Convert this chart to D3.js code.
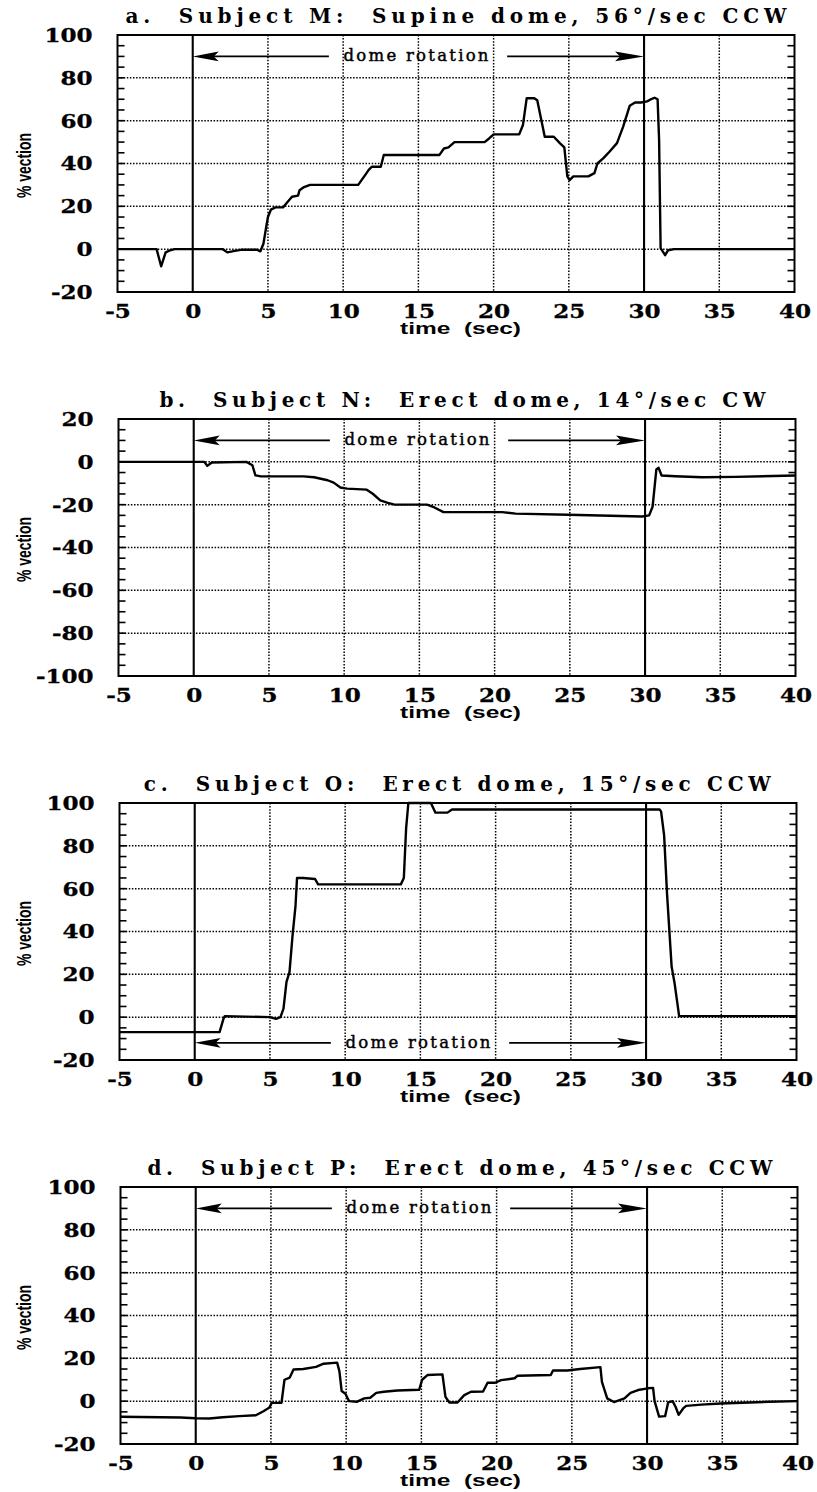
<!DOCTYPE html>
<html>
<head>
<meta charset="utf-8">
<script src="https://cdn.jsdelivr.net/npm/d3@7"></script>
<style>
  html, body { margin: 0; padding: 0; background: #fff; }
  svg { display: block; }
</style>
</head>
<body>
<svg id="fig" width="817" height="1492"></svg>
<script>
// ---- data: [time (sec), % vection] ----
const traceM = [
  [-5, 0], [-2.4, 0], [-2.1, -8], [-1.8, -1.5], [-1.5, -0.5], [-1.2, 0], [2.0, 0], [2.3, -1.5],
  [2.8, -0.8], [3.2, -0.3], [4.3, -0.3], [4.5, -1], [4.7, 2.5], [4.9, 11], [5.0, 15], [5.2, 18.5],
  [5.5, 19.5], [6.0, 19.5], [6.3, 22], [6.6, 24.5], [7.0, 25], [7.1, 27.5], [7.4, 29], [7.8, 30],
  [11.0, 30], [11.4, 34], [11.7, 37], [11.9, 38.5], [12.5, 38.5], [12.7, 44], [16.4, 44], [16.7, 47],
  [17.0, 47.5], [17.4, 50], [19.4, 50], [19.7, 51.7], [20.0, 53.6], [21.7, 53.6], [21.95, 58],
  [22.2, 70.5], [22.7, 70.5], [22.9, 69.5], [23.4, 52.5], [24.0, 52.5], [24.4, 49.5], [24.7, 47.5],
  [24.9, 34], [25.05, 32.2], [25.3, 34], [26.3, 34], [26.7, 35.5], [26.9, 40], [27.3, 42.5],
  [27.7, 45.5], [28.2, 49.5], [28.6, 57], [29.05, 67], [29.4, 68.5], [29.8, 68.5], [30.2, 69],
  [30.4, 69.8], [30.7, 70.7], [30.9, 70], [31.0, 51], [31.1, 0.5], [31.4, -2.8], [31.6, -0.5],
  [32.0, 0], [40, 0]
];
const traceN = [
  [-5, 0], [0.7, 0], [0.9, -1.9], [1.2, -0.3], [3.5, 0], [3.9, -1.6], [4.1, -6.3], [4.4, -6.7],
  [7.3, -6.8], [8.0, -7.2], [8.9, -8.6], [9.3, -9.7], [9.75, -12], [10.2, -12.5], [11.5, -13],
  [11.9, -14.9], [12.4, -18], [12.9, -19.2], [13.3, -19.9], [15.5, -20], [16.0, -21.3], [16.6, -23.5],
  [20.5, -23.5], [21.4, -24.2], [24.9, -24.7], [29.8, -25.5], [30.27, -25], [30.5, -21], [30.75, -3.6],
  [30.9, -2.8], [31.1, -6.4], [32.0, -6.7], [33.8, -7.2], [36.0, -7], [40, -6.4]
];
const traceO = [
  [-5, -7], [1.65, -7], [1.9, -1], [2.0, 0.5], [5.0, 0], [5.4, -0.8], [5.7, 0], [5.9, 4], [6.1, 16.5],
  [6.3, 21], [6.5, 38], [6.7, 52], [6.8, 65], [7.2, 65], [8.0, 64.5], [8.2, 62], [8.55, 62], [13.7, 62],
  [13.9, 65], [14.05, 88], [14.2, 100], [15.7, 100], [16.0, 95.5], [16.8, 95.5], [17.1, 97], [30.9, 97],
  [31.0, 96], [31.2, 85], [31.4, 57], [31.7, 23.6], [31.9, 15.7], [32.2, 0.5], [40, 0.5]
];
const traceP = [
  [-5, -7.3], [-1, -7.6], [0, -8], [0.9, -8.1], [1.8, -7.5], [2.9, -7], [4.0, -6.6], [4.5, -4.7],
  [4.9, -3], [5.05, -0.8], [5.7, -0.8], [5.9, 10], [6.25, 11], [6.5, 14.8], [7.15, 15], [8.0, 16],
  [8.5, 17.5], [9.4, 18], [9.55, 14], [9.7, 4.7], [9.95, 3.5], [10.2, 0], [10.7, -0.3], [11.2, 1.3],
  [11.6, 1.6], [12.0, 3.9], [12.5, 4.4], [13.4, 5], [14.85, 5.3], [15.05, 10], [15.4, 12.2], [16.4, 12.5],
  [16.6, 2], [16.85, -0.6], [17.4, -0.6], [17.85, 2.8], [18.3, 4.4], [19.1, 4.5], [19.4, 8.6],
  [19.9, 8.6], [20.3, 9.8], [21.2, 10.7], [21.4, 11.9], [23.6, 12.2], [23.75, 14.3], [24.7, 14.3],
  [25.55, 15], [26.9, 15.9], [27.0, 9], [27.35, 1.3], [27.8, -0.4], [28.5, 1.3], [28.9, 3.9],
  [29.4, 5.2], [30.05, 6], [30.4, 6.2], [30.5, 0], [30.8, -7.2], [31.2, -7], [31.4, -0.6], [31.7, 0],
  [31.9, -2.7], [32.1, -6.4], [32.4, -3.4], [32.6, -2.2], [33.6, -1.6], [34.9, -1.1], [38.1, -0.3], [40, 0]
];

const panelTitles = [
  "a.  Subject M:  Supine dome, 56°/sec CCW",
  "b.  Subject N:  Erect dome, 14°/sec CW",
  "c.  Subject O:  Erect dome, 15°/sec CCW",
  "d.  Subject P:  Erect dome, 45°/sec CCW"
];
const yDomains = [[-20, 100], [-100, 20], [-20, 100], [-20, 100]];
const xTicks = [-5, 0, 5, 10, 15, 20, 25, 30, 35, 40];
const xGridTicks = [5, 10, 15, 20, 25, 35];
const rotationSpan = [0, 30];            // dome rotation on/off (sec)
const arrowLevels = [90, 10, -12, 90];   // % vection level of the rotation arrow
const arrowTextSpan = [9.05, 20.9];      // gap left for the "dome rotation" label (sec)
const arrowLabel = "dome rotation";
const xLabel = "time  (sec)";
const yLabel = "% vection";

// ---- layout ----
const W = 817, H = 1492;
const panelTop0 = 35, panelStep = 384, panelH = 257;
const titleStart = [125.5, 159.4, 143.8, 147.4];
const titleWidth = [661, 606, 627, 625];
const serifFont = "'DejaVu Serif', serif";
const tickScaleX = 1.28;
const plainNumber = d => String(d);   // ASCII hyphen for negatives

const traces = [traceM, traceN, traceO, traceP];
const svg = d3.select("#fig");
svg.append("rect").attr("width", W).attr("height", H).attr("fill", "#fff");

traces.forEach((trace, i) => {
  const top = panelTop0 + panelStep * i;
  const bottom = top + panelH;
  const left = 117.5 + i, right = 794.5 + i;
  const x = d3.scaleLinear().domain([-5, 40]).range([left, right]);
  const y = d3.scaleLinear().domain(yDomains[i]).range([bottom, top]);
  const [lo, hi] = yDomains[i];
  const yTicks = d3.range(lo, hi + 1, 20);
  const g = svg.append("g");

  // dotted grid
  const dotted = sel => sel.attr("stroke", "#000").attr("stroke-width", 1.5)
    .attr("stroke-dasharray", "1.5,1.6");
  g.append("g").selectAll("line").data(yTicks.slice(1, -1)).join("line")
    .attr("x1", left).attr("x2", right)
    .attr("y1", d => y(d)).attr("y2", d => y(d))
    .call(dotted);
  g.append("g").selectAll("line").data(xGridTicks).join("line")
    .attr("x1", d => x(d)).attr("x2", d => x(d))
    .attr("y1", top).attr("y2", bottom)
    .call(dotted);

  // rotation on/off markers
  g.append("g").selectAll("line").data(rotationSpan).join("line")
    .attr("x1", d => x(d)).attr("x2", d => x(d))
    .attr("y1", top).attr("y2", bottom)
    .attr("stroke", "#000").attr("stroke-width", 2.1);

  // minor ticks on left and right edges
  const minor = d3.range(lo, hi + 1, 5);
  g.append("g").selectAll("line").data(minor).join("line")
    .attr("x1", left).attr("x2", left + 7)
    .attr("y1", d => y(d)).attr("y2", d => y(d))
    .attr("stroke", "#000").attr("stroke-width", 1.6);
  g.append("g").selectAll("line").data(minor).join("line")
    .attr("x1", right - 7).attr("x2", right)
    .attr("y1", d => y(d)).attr("y2", d => y(d))
    .attr("stroke", "#000").attr("stroke-width", 1.6);

  // frame
  g.append("rect").attr("x", left).attr("y", top)
    .attr("width", right - left).attr("height", bottom - top)
    .attr("fill", "none").attr("stroke", "#000").attr("stroke-width", 2);

  // rotation arrow with label
  const ay = y(arrowLevels[i]);
  const x0 = x(rotationSpan[0]), x1 = x(rotationSpan[1]);
  g.append("line").attr("x1", x0 + 18).attr("x2", x(arrowTextSpan[0]))
    .attr("y1", ay).attr("y2", ay).attr("stroke", "#000").attr("stroke-width", 1.7);
  g.append("line").attr("x1", x(arrowTextSpan[1])).attr("x2", x1 - 18)
    .attr("y1", ay).attr("y2", ay).attr("stroke", "#000").attr("stroke-width", 1.7);
  g.append("path")
    .attr("d", `M${x0},${ay} L${x0 + 26},${ay - 4.8} L${x0 + 21},${ay} L${x0 + 26},${ay + 4.8} Z`)
    .attr("fill", "#000");
  g.append("path")
    .attr("d", `M${x1},${ay} L${x1 - 29},${ay - 4.8} L${x1 - 24},${ay} L${x1 - 29},${ay + 4.8} Z`)
    .attr("fill", "#000");
  g.append("text")
    .attr("x", x((arrowTextSpan[0] + arrowTextSpan[1]) / 2) - 2)
    .attr("y", ay + 5)
    .attr("text-anchor", "middle")
    .attr("textLength", 145).attr("lengthAdjust", "spacing")
    .attr("font-family", serifFont).attr("font-size", 16.5)
    .attr("stroke", "#000").attr("stroke-width", 0.45)
    .text(arrowLabel);

  // trace
  const line = d3.line().x(d => x(d[0])).y(d => y(d[1]));
  g.append("path").datum(trace)
    .attr("d", line)
    .attr("fill", "none").attr("stroke", "#000")
    .attr("stroke-width", 2.4).attr("stroke-linejoin", "round");

  // y axis labels
  const ya = g.append("g").attr("transform", `translate(${left},0)`)
    .call(d3.axisLeft(y).tickValues(yTicks).tickFormat(plainNumber).tickSize(0).tickPadding(0));
  ya.select(".domain").remove();
  ya.attr("font-family", serifFont).attr("font-size", 18).attr("font-weight", "bold");
  ya.selectAll("text")
    .attr("x", -25 / tickScaleX).attr("dy", "0.36em")
    .attr("stroke", "#000").attr("stroke-width", 0.3)
    .attr("transform", `scale(${tickScaleX},1)`);

  // x axis labels
  const xa = g.append("g").attr("transform", `translate(0,${bottom})`)
    .call(d3.axisBottom(x).tickValues(xTicks).tickFormat(plainNumber).tickSize(0).tickPadding(0));
  xa.select(".domain").remove();
  xa.attr("font-family", serifFont).attr("font-size", 18).attr("font-weight", "bold");
  xa.selectAll("text")
    .attr("y", 26).attr("dy", 0)
    .attr("stroke", "#000").attr("stroke-width", 0.3)
    .attr("transform", `scale(${tickScaleX},1)`);

  // axis titles
  g.append("text")
    .attr("transform", `translate(31,${(top + bottom) / 2 + 2}) rotate(-90)`)
    .attr("text-anchor", "middle")
    .attr("textLength", 65).attr("lengthAdjust", "spacingAndGlyphs")
    .attr("font-family", "'Liberation Sans', sans-serif")
    .attr("font-size", 20).attr("font-weight", "bold")
    .text(yLabel);
  g.append("text")
    .attr("x", 400).attr("y", bottom + 42)
    .attr("textLength", 121).attr("lengthAdjust", "spacingAndGlyphs")
    .attr("font-family", "'Liberation Sans', sans-serif")
    .attr("font-size", 16).attr("font-weight", "bold")
    .style("white-space", "pre")
    .text(xLabel);

  // panel title
  g.append("text")
    .attr("x", titleStart[i]).attr("y", top - 12.5)
    .attr("textLength", titleWidth[i]).attr("lengthAdjust", "spacing")
    .attr("font-family", serifFont).attr("font-size", 20).attr("font-weight", "bold")
    .style("white-space", "pre")
    .text(panelTitles[i]);
});
</script>
</body>
</html>
